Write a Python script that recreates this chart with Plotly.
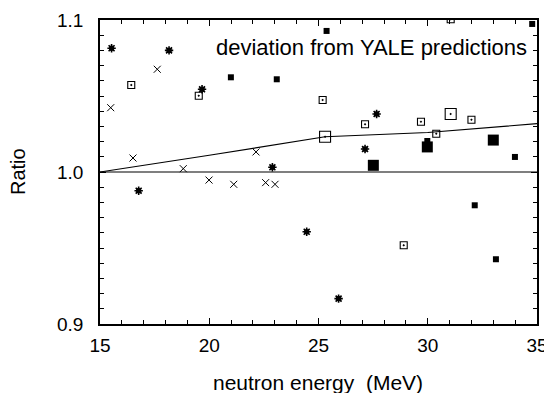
import plotly.graph_objects as go

# Data
ast_x = [15.53, 18.16, 19.67, 22.89, 16.77, 24.46, 27.66, 27.13, 25.92]
ast_y = [1.0814, 1.080, 1.0544, 1.0031, 0.9877, 0.9607, 1.0382, 1.0151, 0.9167]

cross_x = [17.62, 15.49, 16.51, 18.81, 22.14, 19.99, 21.12, 22.58, 23.01]
cross_y = [1.0676, 1.0423, 1.0092, 1.0022, 1.0132, 0.9947, 0.9919, 0.993, 0.9919]

osq_x = [16.43, 19.52, 31.05, 25.19, 27.13, 29.69, 32.0, 30.39, 28.9]
osq_y = [1.0572, 1.0502, 1.1005, 1.0474, 1.0314, 1.0331, 1.0344, 1.0252, 0.9518]

fsq_x = [20.99, 23.09, 25.37, 34.78, 29.98, 33.99, 32.15, 33.12]
fsq_y = [1.0623, 1.061, 1.0928, 1.0974, 1.0204, 1.0099, 0.9781, 0.9426]

big_osq_x = [31.05, 25.30]
big_osq_y = [1.0382, 1.0232]

big_fsq_x = [27.51, 29.98, 33.0]
big_fsq_y = [1.0044, 1.0165, 1.021]

curve_x = [15, 20, 25.3, 30, 35]
curve_y = [1.0, 1.011, 1.0232, 1.026, 1.0318]

ref_x = [15, 35]
ref_y = [1.0, 1.0]

K = "black"
fig = go.Figure()
fig.add_trace(go.Scatter(x=ref_x, y=ref_y, mode="lines", line=dict(color=K, width=1.2)))
fig.add_trace(go.Scatter(x=curve_x, y=curve_y, mode="lines", line=dict(color=K, width=1.2)))
fig.add_trace(go.Scatter(x=ast_x, y=ast_y, mode="markers",
                         marker=dict(symbol="asterisk-open", size=7, color=K, line=dict(color=K, width=1.6))))
fig.add_trace(go.Scatter(x=ast_x, y=ast_y, mode="markers",
                         marker=dict(symbol="square-open", size=4, color=K, line=dict(color=K, width=1))))
fig.add_trace(go.Scatter(x=cross_x, y=cross_y, mode="markers",
                         marker=dict(symbol="x-thin-open", size=7, color=K, line=dict(color=K, width=1.0))))
fig.add_trace(go.Scatter(x=osq_x, y=osq_y, mode="markers",
                         marker=dict(symbol="square-open-dot", size=7, color=K, line=dict(color=K, width=1.1))))
fig.add_trace(go.Scatter(x=fsq_x, y=fsq_y, mode="markers",
                         marker=dict(symbol="square", size=6, color=K, line=dict(width=0))))
fig.add_trace(go.Scatter(x=big_osq_x, y=big_osq_y, mode="markers",
                         marker=dict(symbol="square-open-dot", size=11, color=K, line=dict(color=K, width=1.1))))
fig.add_trace(go.Scatter(x=big_fsq_x, y=big_fsq_y, mode="markers",
                         marker=dict(symbol="square", size=11, color=K, line=dict(width=0))))

font = "Liberation Sans, Arial, Helvetica, sans-serif"

# page has an 8px body margin; figure is sized to fit the window
OFF = 8
W, H = 552 - OFF, 393 - OFF
L, R, T, B = 100 - OFF, 15, 20 - OFF, 69
PW, PH = W - L - R, H - T - B


def px(xa):
    return (xa - OFF - L) / PW


def py(ya):
    return (H - B - (ya - OFF)) / PH


fig.add_annotation(x=px(529), y=py(48), xref="paper", yref="paper", xanchor="right", yanchor="middle",
                   text="deviation from YALE predictions", showarrow=False,
                   font=dict(family=font, size=22, color=K))
fig.add_annotation(x=px(318), y=py(382), xref="paper", yref="paper", xanchor="center", yanchor="middle",
                   text="neutron energy&nbsp;&nbsp;(MeV)", showarrow=False,
                   font=dict(family=font, size=21, color=K))
fig.add_annotation(x=px(18), y=py(172), xref="paper", yref="paper", xanchor="center", yanchor="middle",
                   text="Ratio", textangle=-90, showarrow=False,
                   font=dict(family=font, size=20, color=K))

axis_common = dict(showgrid=False, zeroline=False, showline=True, linecolor=K, linewidth=1.6,
                   mirror="allticks", ticks="inside", tickcolor=K, tickwidth=1.2, ticklen=6,
                   automargin=False, tickfont=dict(family=font, size=19, color=K))
fig.update_xaxes(range=[15, 35], tickmode="linear", tick0=15, dtick=5,
                 minor=dict(tickmode="linear", dtick=1, ticks="inside", ticklen=4, tickcolor=K, tickwidth=1),
                 ticklabelstandoff=3,
                 **axis_common)
fig.update_yaxes(range=[0.9, 1.1], tickmode="linear", tick0=0.9, dtick=0.1, tickformat=".1f",
                 minor=dict(tickmode="linear", dtick=0.01, ticks="inside", ticklen=4, tickcolor=K, tickwidth=1),
                 ticklabelstandoff=11,
                 **axis_common)
fig.update_layout(width=W, height=H, margin=dict(l=L, r=R, t=T, b=B),
                  plot_bgcolor="white", paper_bgcolor="white", showlegend=False)
fig.write_html("out.html")
